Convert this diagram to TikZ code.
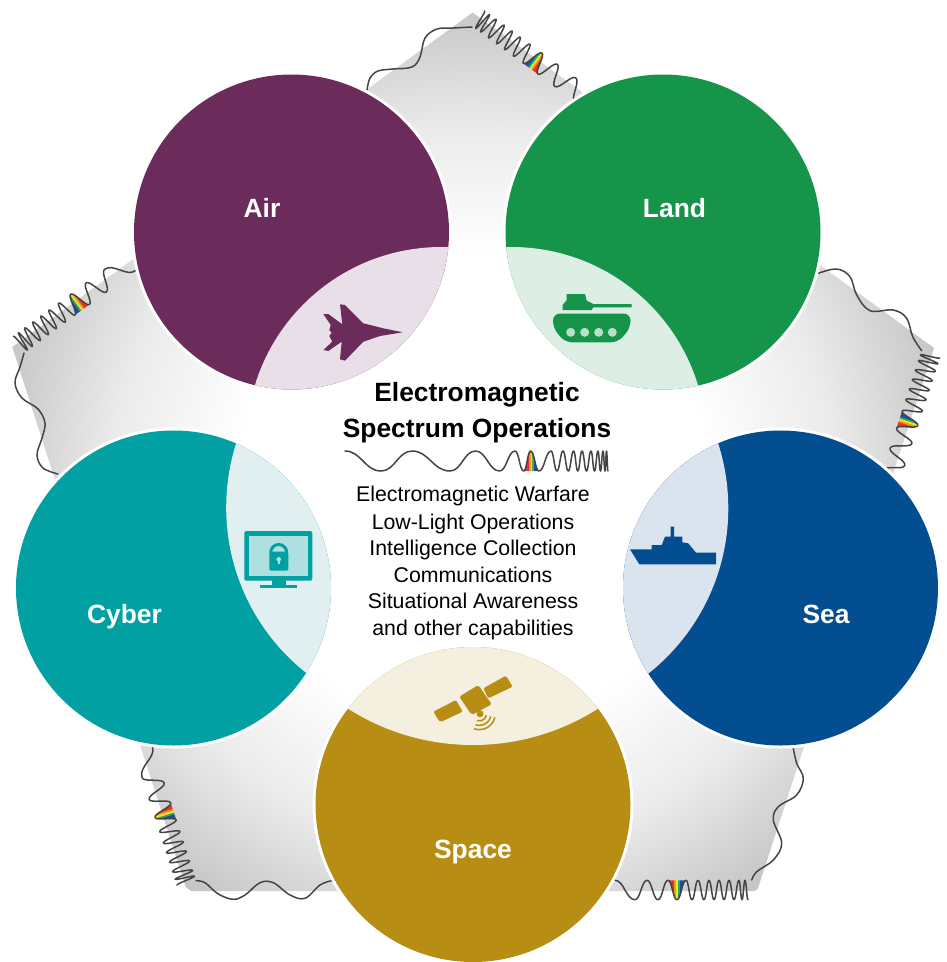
\documentclass[tikz,border=0pt]{standalone}
\usepackage{fontspec}
\setmainfont{Liberation Sans}
\definecolor{airD}{HTML}{6B2C5C}\definecolor{airL}{HTML}{E9DFE8}
\definecolor{landD}{HTML}{16954A}\definecolor{landL}{HTML}{DDEFE5}
\definecolor{seaD}{HTML}{034D91}\definecolor{seaL}{HTML}{DAE4EF}
\definecolor{cyberD}{HTML}{00A0A3}\definecolor{cyberL}{HTML}{E1EFF0}
\definecolor{cyberM}{HTML}{AEE0E1}
\definecolor{spaceD}{HTML}{B88D14}\definecolor{spaceL}{HTML}{F5EFDF}
\definecolor{tankW}{HTML}{BCDDC9}
\definecolor{waveC}{HTML}{444444}
\definecolor{edgeG}{HTML}{C4C4C4}
\definecolor{midG}{HTML}{EBEBEB}
\definecolor{rA}{HTML}{1F4EA1}\definecolor{rB}{HTML}{00A3A6}\definecolor{rC}{HTML}{3DB54A}
\definecolor{rD}{HTML}{F7E814}\definecolor{rE}{HTML}{F7941D}\definecolor{rF}{HTML}{E8302A}
\pgfdeclareradialshading{pentfade}{\pgfpoint{0bp}{0bp}}{color(0bp)=(white); color(12bp)=(white); color(18.5bp)=(midG); color(25bp)=(edgeG); color(50bp)=(edgeG)}
\tikzset{
  wave/.style={draw=waveC,line width=1.5pt,line cap=round,line join=round},
  domainlabel/.style={anchor=base,text=white,font=\bfseries\fontsize{26.4}{30}\selectfont,inner sep=0pt},
  titletext/.style={anchor=base,text=black,font=\bfseries\fontsize{26.4}{30}\selectfont,inner sep=0pt},
  bodytext/.style={anchor=base,text=black,font=\fontsize{21.3}{25}\selectfont,inner sep=0pt}
}
% curve through alternating extrema, starting at the outer side
\newcommand{\wavecurve}[3]{%
  \draw[wave] (#1,-#2) \foreach \s [remember=\s as \p (initially #1),count=\i] in {#3} {
    .. controls ({\p+.45*(\s-\p)},{-#2*(2*mod(\i,2)-1)}) and ({\s-.45*(\s-\p)},{#2*(2*mod(\i,2)-1)}) .. (\s,{#2*(2*mod(\i,2)-1)})
  };}
% rainbow bell: base ends a,c apex b, half height h, colours from a to c
\newcommand{\bell}[9]{%
  \begin{scope}
    \clip (#1,#4) .. controls ({#1+.45*(#2-#1)},#4) and ({#2-.45*(#2-#1)},-#4) .. (#2,-#4)
      .. controls ({#2+.45*(#3-#2)},-#4) and ({#3-.45*(#3-#2)},#4) .. (#3,#4) -- cycle;
    \fill[#5] (#1,{-#4-1}) rectangle ({#1+(#3-#1)*.36},{#4+1});
    \fill[#6] ({#1+(#3-#1)*.35},{-#4-1}) rectangle ({#1+(#3-#1)*.46},{#4+1});
    \fill[#7] ({#1+(#3-#1)*.45},{-#4-1}) rectangle ({#1+(#3-#1)*.56},{#4+1});
    \fill[#8] ({#1+(#3-#1)*.55},{-#4-1}) rectangle ({#1+(#3-#1)*.66},{#4+1});
    \fill[#9] ({#1+(#3-#1)*.65},{-#4-1}) rectangle (#3,{#4+1});
  \end{scope}}
\newcommand{\shortwave}[4]{%
  \begin{scope}[shift={(#1,#2)},rotate=#3]
    \bell{62}{71}{80}{9.7}{rA}{rB!60!rC}{rD}{rE}{rF}
    \wavecurve{0}{9.7}{3,6,9,14,19,24,29,34,39,44,50,56,62,71,80,90,101,113,#4}
  \end{scope}}
\begin{document}
\begin{tikzpicture}[x=1pt,y=-1pt]
\useasboundingbox (0,0) rectangle (946,962);
% pentagon
\begin{scope}
  \clip (472.7,12.5) -- (934,348) -- (757,891) -- (187,891) -- (12.3,347) -- cycle;
  \shade[shading=pentfade] (473,490) circle[radius=490pt];
\end{scope}
% corner waves: long parts
\draw[wave] plot[smooth,tension=.6] coordinates {(367,90) (370,78) (378,71) (393,69) (412,67) (420,57) (425,38) (437,29) (453,28) (472,27)};
\draw[wave] plot[smooth,tension=.6] coordinates {(818.3,273.3) (836.7,269) (850,276.7) (856.7,295) (870,310.7) (893.3,310) (906.7,318.3) (912.7,336.7) (921.7,350.7)};
\draw[wave] plot[smooth,tension=.6] coordinates {(793.3,748.3) (796.7,763.3) (803.3,778.3) (796.7,795) (778.3,806.7) (773.3,820) (781.7,843.3) (773.3,860) (756.7,871.7) (751.7,880)};
\draw[wave] plot[smooth,tension=.6] coordinates {(331.7,880.7) (320,885) (305,898.3) (290,895) (273.3,882.7) (260,882.7) (245,895) (233.3,899.3) (218.3,894) (205,882.7) (196,880.7)};
\draw[wave] plot[smooth,tension=.6] coordinates {(58,474) (43,468) (37,455) (42,438) (45,423) (38,409) (22,398) (15,383) (20,367) (24,353)};
% corner waves: short parts with the rainbow
\shortwave{479}{18.8}{-36.3}{126}
\shortwave{930.5}{355}{-108}{124}
\shortwave{748}{890}{180}{133}
\shortwave{186.2}{882}{108}{139}
\shortwave{19.2}{344}{36.3}{137}
% white rims
\foreach \cx/\cy in {291.5/232,663/232,780.5/588,173.5/588,473/804.5}
  \fill[white] (\cx,\cy) circle[radius=160.5pt];
% domain discs
\begin{scope}\clip (291.5,232) circle[radius=157.5pt];
  \fill[airD] (100,50) rectangle (480,420);
  \fill[airL] (441.5,442) circle[radius=195pt];
\end{scope}
\begin{scope}\clip (663,232) circle[radius=157.5pt];
  \fill[landD] (480,50) rectangle (850,420);
  \fill[landL] (511.4,442) circle[radius=195pt];
\end{scope}
\begin{scope}\clip (780.5,588) circle[radius=157.5pt];
  \fill[seaD] (600,400) rectangle (946,770);
  \fill[seaL] (517.3,508.2) circle[radius=211pt];
\end{scope}
\begin{scope}\clip (173.5,588) circle[radius=157.5pt];
  \fill[cyberD] (0,400) rectangle (350,770);
  \fill[cyberL] (437.2,507.5) circle[radius=211pt];
\end{scope}
\begin{scope}\clip (473,804.5) circle[radius=157.5pt];
  \fill[spaceD] (300,630) rectangle (650,962);
  \fill[spaceL] (473,512) circle[radius=233pt];
\end{scope}
% jet
\fill[airD] (402.7,332.3) -- (383.3,328.3) -- (363.3,323.3) -- (345,305) -- (340,304.3) -- (342.3,324.3) -- (328.3,314) -- (323.3,314) -- (330.7,325) -- (329.3,330) -- (331.7,332.7) -- (329.3,336) -- (332.3,341.7) -- (323.3,350) -- (328.3,351) -- (341.7,341.7) -- (340,359.3) -- (345,360.7) -- (363.3,341.7) -- (380,336) -- cycle;
% tank
\fill[landD] (566.7,294) -- (585,294) -- (586.7,300.7) -- (593.3,304) -- (631.7,304) -- (631.7,307.3) -- (593.3,307.3) -- (591.7,310) -- (562.7,310) -- (562.7,305) -- (566.7,300) -- cycle;
\fill[landD,rounded corners=7pt] (553,313.5) -- (630.5,313.5) -- (630.5,328) -- (618,342.3) -- (565,342.3) -- (553,328) -- cycle;
\foreach \wx in {570.7,584.7,598.7,612.3} \fill[tankW] (\wx,332.3) circle[radius=4.5pt];
% monitor
\fill[cyberD,rounded corners=2pt] (244.3,531) rectangle (312.3,580.7);
\fill[cyberM] (249,535.7) rectangle (307.7,576);
\fill[cyberD] (271.7,580) rectangle (285.7,585.5);
\fill[cyberD] (260,585) rectangle (297.3,588.3);
\draw[cyberD,line width=3pt] (270.7,552.5) arc[start angle=180,end angle=0,radius=8pt];
\fill[cyberD,rounded corners=2pt] (269.3,551.7) rectangle (288.3,570.7);
\fill[cyberM] (278.7,559.3) circle[radius=2.3pt];
\fill[cyberM] (277.6,559.3) rectangle (279.8,564.2);
% ship
\fill[seaD] (630,549.3) -- (651.7,549.3) -- (651.7,545) -- (661.7,545) -- (665,536.7) -- (670.7,536.7) -- (670.7,526.7) -- (674,526.7) -- (674,536.7) -- (682.3,536.7) -- (682.3,542.3) -- (688.3,543.3) -- (696,552.7) -- (716,552.7) -- (716,564.3) -- (639.3,564.3) -- cycle;
% satellite
\fill[spaceD,rounded corners=2pt] (459.3,696.7) -- (478.3,685) -- (491.7,704.3) -- (471.7,715) -- cycle;
\fill[spaceD,rounded corners=2pt] (433.3,711.7) -- (456,700) -- (462.7,711.7) -- (440,722.3) -- cycle;
\fill[spaceD,rounded corners=2pt] (483.3,688.3) -- (506,675.7) -- (512.7,686.7) -- (488.3,698.3) -- cycle;
\fill[spaceD] (480,713.7) circle[radius=3.5pt];
\foreach \rr in {7.3,11.7,16}
  \draw[spaceD,line width=1.5pt] ({479.3+\rr*cos(13)},{713.7+\rr*sin(13)}) arc[start angle=-13,end angle=-109,radius=\rr pt];
% labels
\node[domainlabel] (air) at (262,217) {Air};
\node[domainlabel] (land) at (674.5,217) {Land};
\node[domainlabel] (sea) at (826,623) {Sea};
\node[domainlabel] (cyber) at (124.5,623) {Cyber};
\node[domainlabel] (space) at (473,858.5) {Space};
\node[titletext] (t1) at (477,401.5) {Electromagnetic};
\node[titletext] (t2) at (477,437) {Spectrum Operations};
% central wave
\begin{scope}[shift={(0,461)}]
  \bell{523.7}{530.6}{539}{10}{rF}{rE}{rD}{rC}{rA}
  \wavecurve{345}{10}{381,412,450,475.5,499.6,515,523.7,530.6,539,551,557,563,568.3,573.6,577.8,582,586.5,591,594.5,598,600.5,603,605,606.5,608}
\end{scope}
\node[bodytext] (b1) at (473,501.5) {Electromagnetic Warfare};
\node[bodytext] (b2) at (473,529) {Low-Light Operations};
\node[bodytext] (b3) at (473,555.5) {Intelligence Collection};
\node[bodytext] (b4) at (473,582) {Communications};
\node[bodytext] (b5) at (473,608.4) {Situational Awareness};
\node[bodytext] (b6) at (473,635) {and other capabilities};
\end{tikzpicture}
\end{document}
